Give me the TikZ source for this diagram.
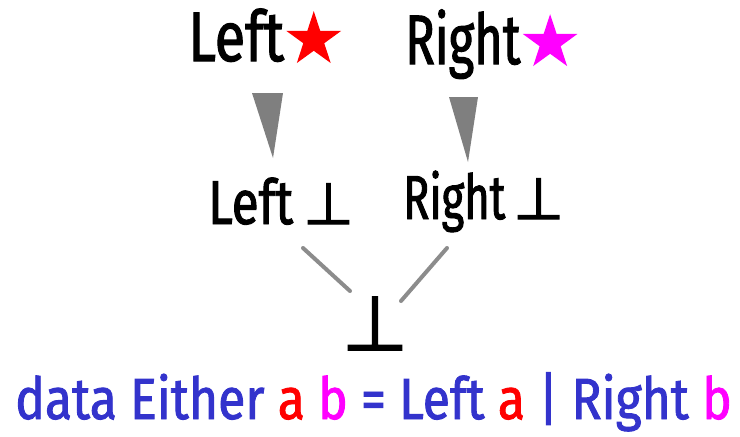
\documentclass[tikz,border=0pt]{standalone}
\usepackage{fontspec}
\setmainfont{Fira Sans}
\newfontfamily\hand[FakeStretch=0.8,FakeBold=1.5]{Fira Sans}
\newfontfamily\handn[FakeStretch=0.7,FakeBold=1.5]{Fira Sans}
\newfontfamily\handw[FakeStretch=0.86,FakeBold=1.5]{Fira Sans}
\newfontfamily\sym[FakeBold=2]{DejaVu Sans}
\definecolor{hblue}{HTML}{3333CC}
\definecolor{hred}{HTML}{FF0000}
\definecolor{hmag}{HTML}{FF00FF}
\definecolor{tri}{HTML}{7F7F7F}
\begin{document}
\begin{tikzpicture}[x=1pt,y=-1pt,
  lbl/.style={anchor=base west,inner sep=0pt,font=\hand\fontsize{70}{70}\selectfont},
  lbl2/.style={anchor=base west,inner sep=0pt,font=\hand\fontsize{62}{62}\selectfont},
  tri/.style={fill=tri},
  link/.style={draw=tri!90,line width=4pt,line cap=round}]
\useasboundingbox (0,0) rectangle (740,437);
\node[lbl] (ls) at (188,61) {Left{\sym\fontsize{66}{66}\selectfont\color{hred}★}};
\node[lbl] (rs) at (405,64) {{\handn Right}{\sym\fontsize{66}{66}\selectfont\color{hmag}★}};
\node[lbl2] (lb) at (208,224) {Left\hspace{10pt}{\sym\fontsize{58}{58}\selectfont ⊥}};
\node[lbl2] (rb) at (403,219) {{\handn Right}\hspace{8pt}{\sym\fontsize{58}{58}\selectfont ⊥}};
\node[anchor=base,inner sep=0pt,font=\sym\fontsize{76}{76}\selectfont] (bot) at (375,350) {⊥};
\node[anchor=base west,inner sep=0pt,text=hblue,font=\handw\fontsize{58}{58}\selectfont] (decl) at (15,419) {data Either {\color{hred}a} {\color{hmag}b} = Left {\color{hred}a} | Right {\color{hmag}b}};
\coordinate (t1a) at (252,93); \coordinate (t1b) at (283,93); \coordinate (t1c) at (273,158);
\coordinate (t2a) at (449,97); \coordinate (t2b) at (478,97); \coordinate (t2c) at (468,162);
\fill[tri] (t1a) -- (t1b) -- (t1c) -- cycle;
\fill[tri] (t2a) -- (t2b) -- (t2c) -- cycle;
\coordinate (l1a) at (303,248); \coordinate (l1b) at (350,291);
\coordinate (l2a) at (447,248); \coordinate (l2b) at (401,301);
\draw[link] (l1a) -- (l1b);
\draw[link] (l2a) -- (l2b);
\end{tikzpicture}
\end{document}
